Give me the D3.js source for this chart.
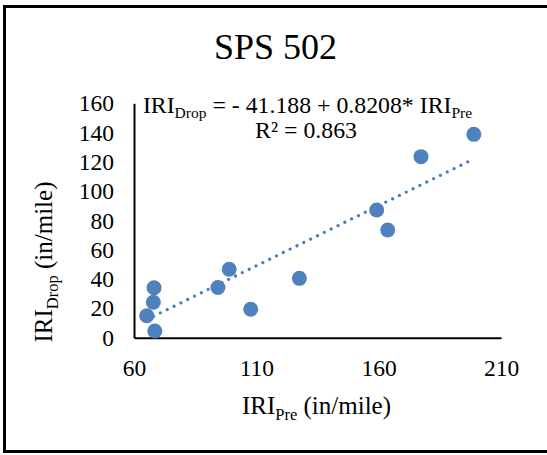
<!DOCTYPE html>
<html>
<head>
<meta charset="utf-8">
<script src="https://cdn.jsdelivr.net/npm/d3@7"></script>
<style>
  html, body { margin: 0; padding: 0; background: #fff; }
  svg { display: block; }
  text { font-family: "Liberation Serif", "Times New Roman", serif; fill: #000; }
</style>
</head>
<body>
<svg id="chart" width="547" height="455"></svg>
<script>
// ---- data ----
const preIRI  = [68.2, 67.9, 65.2, 68.5, 94.3, 98.9, 107.7, 127.6, 159.2, 163.7, 177.3, 198.9];
const dropIRI = [34.1, 24.2, 15.0, 4.6, 34.3, 46.7, 19.4, 40.5, 87.2, 73.5, 123.6, 138.8];
const xTicks = [60, 110, 160, 210];
const yTicks = [0, 20, 40, 60, 80, 100, 120, 140, 160];
const trendCoef = [-41.188, 0.8208]; // intercept, slope
const titleText = "SPS 502";
const r2Text = "R² = 0.863";

const svg = d3.select("#chart");
const W = 547, H = 455;
svg.append("rect").attr("width", W).attr("height", H).attr("fill", "#fff");
// outer frame (right edge cropped)
svg.append("rect").attr("x", 4.5).attr("y", 6.5).attr("width", 600).attr("height", 445)
  .attr("fill", "none").attr("stroke", "#000").attr("stroke-width", 3);

const x = d3.scaleLinear().domain([60, 210]).range([134, 501]);
const y = d3.scaleLinear().domain([0, 160]).range([337.7, 103.3]);

// axes
const xAxis = d3.axisBottom(x).tickValues(xTicks).tickSize(0).tickPadding(22);
const gx = svg.append("g").attr("transform", `translate(0,${y(0)})`).call(xAxis);
gx.select(".domain").attr("stroke", "#000").attr("stroke-width", 2);
gx.selectAll("text").attr("font-size", 23.5).attr("font-family", "Liberation Serif").attr("fill", "#000");

const yAxis = d3.axisLeft(y).tickValues(yTicks).tickSize(0).tickPadding(20);
const gy = svg.append("g").attr("transform", `translate(${x(60)},0)`).call(yAxis);
gy.select(".domain").attr("stroke", "#000").attr("stroke-width", 2);
gy.selectAll("text").attr("font-size", 23.5).attr("font-family", "Liberation Serif").attr("fill", "#000");

// title
svg.append("text").attr("x", 275.5).attr("y", 59).attr("text-anchor", "middle")
  .attr("font-size", 36).text(titleText);

// trendline
const xmin = d3.min(preIRI), xmax = d3.max(preIRI);
const trend = [xmin, xmax].map(v => [v, trendCoef[0] + trendCoef[1] * v]);
svg.append("path")
  .attr("d", d3.line().x(d => x(d[0])).y(d => y(d[1]))(trend))
  .attr("fill", "none").attr("stroke", "#4A7EBB").attr("stroke-width", 3.2)
  .attr("stroke-linecap", "round").attr("stroke-dasharray", "0.01 7.6");

// points
svg.append("g").selectAll("circle").data(preIRI.map((v, i) => [v, dropIRI[i]]))
  .join("circle")
  .attr("cx", d => x(d[0])).attr("cy", d => y(d[1])).attr("r", 7.5)
  .attr("fill", "#4F81BD");

// equation
const eq = svg.append("text").attr("x", 307.5).attr("y", 113).attr("text-anchor", "middle").attr("font-size", 23.8);
eq.append("tspan").text("IRI");
eq.append("tspan").attr("dy", 5).attr("font-size", 15.5).text("Drop");
eq.append("tspan").attr("dy", -5).text(" = - 41.188 + 0.8208* IRI");
eq.append("tspan").attr("dy", 5).attr("font-size", 15.5).text("Pre");
svg.append("text").attr("x", 306).attr("y", 137.5).attr("text-anchor", "middle").attr("font-size", 23.8).text(r2Text);

// x axis title
const xt = svg.append("text").attr("x", 316.5).attr("y", 414).attr("text-anchor", "middle").attr("font-size", 25);
xt.append("tspan").text("IRI");
xt.append("tspan").attr("dy", 6).attr("font-size", 16.5).text("Pre");
xt.append("tspan").attr("dy", -6).text(" (in/mile)");

// y axis title
const yt = svg.append("text").attr("transform", "translate(52,262) rotate(-90)").attr("text-anchor", "middle").attr("font-size", 25);
yt.append("tspan").text("IRI");
yt.append("tspan").attr("dy", 6).attr("font-size", 16.5).text("Drop");
yt.append("tspan").attr("dy", -6).text(" (in/mile)");
</script>
</body>
</html>
